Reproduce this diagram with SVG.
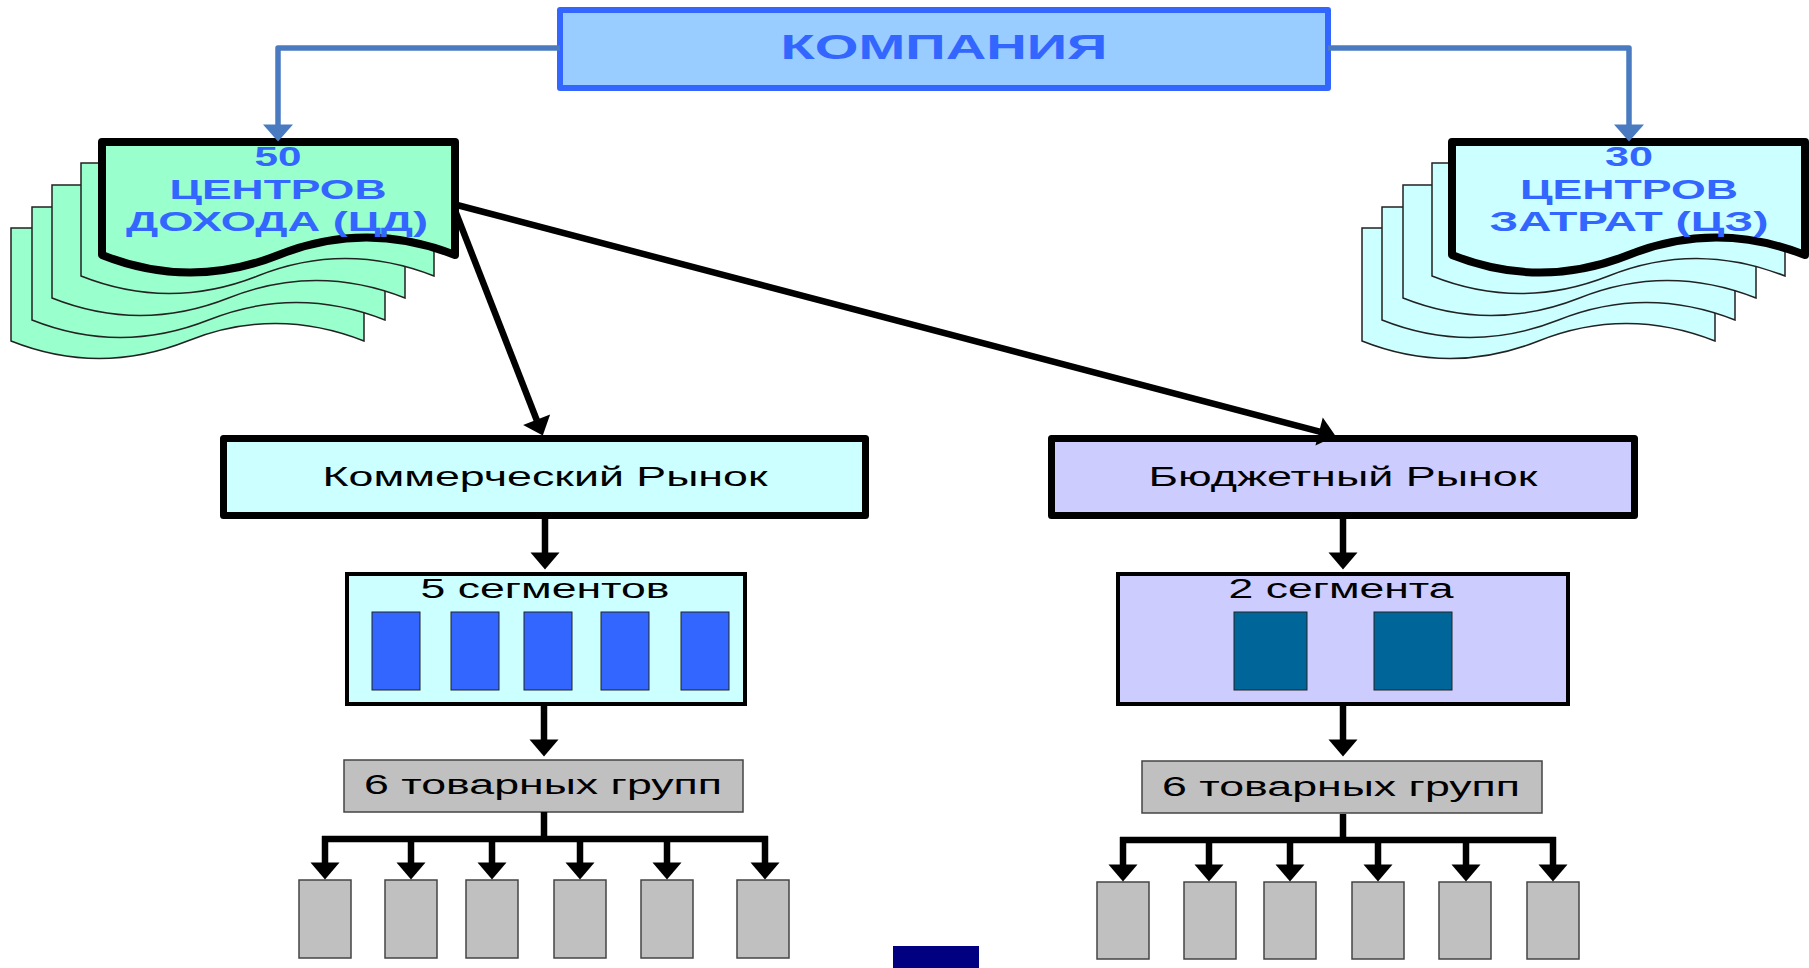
<svg xmlns="http://www.w3.org/2000/svg" xmlns:xlink="http://www.w3.org/1999/xlink" width="1809" height="968" viewBox="0 0 1809 968">
<style>
text{font-family:"Liberation Sans",Arial,sans-serif}
.bt{font-weight:bold;fill:#3366FF;font-size:27px;text-anchor:middle}
.nt{fill:#000;font-size:27px;text-anchor:middle}
.layerG{fill:#99FFCC;stroke:#222;stroke-width:1.5}
.layerC{fill:#CCFFFF;stroke:#222;stroke-width:1.5}
.mainG{fill:#99FFCC;stroke:#000;stroke-width:8;stroke-linejoin:round}
.mainC{fill:#CCFFFF;stroke:#000;stroke-width:8;stroke-linejoin:round}
.blk{stroke:#000;stroke-width:6.5;fill:none}
.blu{stroke:#4A7BC1;stroke-width:5.5;fill:none;stroke-linejoin:round}
.seg{fill:#3366FF;stroke:#222;stroke-width:1}
.teal{fill:#006699;stroke:#222;stroke-width:1}
.gray{fill:#C0C0C0;stroke:#444;stroke-width:1.5}
</style>
<defs>
<path id="doc" d="M0,0 H353 V113 Q264,78 176.5,113 Q88,148 0,113 Z"/>
<marker id="ah" markerUnits="userSpaceOnUse" markerWidth="18" markerHeight="29" refX="0.5" refY="14.5" orient="auto" overflow="visible">
<path d="M0,0 L17,14.5 L0,29 Z" fill="#000"/>
</marker>
<marker id="ahb" markerUnits="userSpaceOnUse" markerWidth="18" markerHeight="30" refX="0.5" refY="15" orient="auto" overflow="visible">
<path d="M0,0 L17,15 L0,30 Z" fill="#4A7BC1"/>
</marker>
</defs>

<g id="company">
<rect x="560" y="10" width="768" height="78" fill="#99CCFF" stroke="#3366FF" stroke-width="6" stroke-linejoin="round"/>
<text x="944" y="59" class="bt" style="font-size:35px" textLength="327" lengthAdjust="spacingAndGlyphs">КОМПАНИЯ</text>
</g>

<g id="revenue-centers">
<use xlink:href="#doc" href="#doc" class="layerG" transform="translate(11,228)"/>
<use xlink:href="#doc" href="#doc" class="layerG" transform="translate(32,207)"/>
<use xlink:href="#doc" href="#doc" class="layerG" transform="translate(52,185)"/>
<use xlink:href="#doc" href="#doc" class="layerG" transform="translate(81,163)"/>
<use xlink:href="#doc" href="#doc" class="mainG" transform="translate(102,142)"/>
<text x="278" y="166" class="bt" textLength="47" lengthAdjust="spacingAndGlyphs">50</text>
<text x="278" y="199" class="bt" textLength="217" lengthAdjust="spacingAndGlyphs">ЦЕНТРОВ</text>
<text x="277" y="231" class="bt" textLength="302" lengthAdjust="spacingAndGlyphs">ДОХОДА (ЦД)</text>
</g>

<g id="cost-centers">
<use xlink:href="#doc" href="#doc" class="layerC" transform="translate(1362,228)"/>
<use xlink:href="#doc" href="#doc" class="layerC" transform="translate(1382,207)"/>
<use xlink:href="#doc" href="#doc" class="layerC" transform="translate(1403,185)"/>
<use xlink:href="#doc" href="#doc" class="layerC" transform="translate(1432,163)"/>
<use xlink:href="#doc" href="#doc" class="mainC" transform="translate(1452,142)"/>
<text x="1629" y="166" class="bt" textLength="48" lengthAdjust="spacingAndGlyphs">30</text>
<text x="1629" y="199" class="bt" textLength="218" lengthAdjust="spacingAndGlyphs">ЦЕНТРОВ</text>
<text x="1629" y="231" class="bt" textLength="279" lengthAdjust="spacingAndGlyphs">ЗАТРАТ (ЦЗ)</text>
</g>

<g id="commercial-market">
<rect x="223.5" y="438.5" width="642" height="77" fill="#CCFFFF" stroke="#000" stroke-width="7" stroke-linejoin="round"/>
<text x="545" y="486" class="nt" textLength="445" lengthAdjust="spacingAndGlyphs">Коммерческий Рынок</text>
</g>

<g id="budget-market">
<rect x="1051.5" y="438.5" width="583" height="77" fill="#CCCCFF" stroke="#000" stroke-width="7" stroke-linejoin="round"/>
<text x="1343" y="486" class="nt" textLength="389" lengthAdjust="spacingAndGlyphs">Бюджетный Рынок</text>
</g>

<g id="segments-5">
<rect x="347" y="574" width="398" height="130" fill="#CCFFFF" stroke="#000" stroke-width="4"/>
<text x="545" y="598" class="nt" textLength="249" lengthAdjust="spacingAndGlyphs">5 сегментов</text>
<rect class="seg" x="372" y="612" width="48" height="78"/>
<rect class="seg" x="451" y="612" width="48" height="78"/>
<rect class="seg" x="524" y="612" width="48" height="78"/>
<rect class="seg" x="601" y="612" width="48" height="78"/>
<rect class="seg" x="681" y="612" width="48" height="78"/>
</g>

<g id="segments-2">
<rect x="1118" y="574" width="450" height="130" fill="#CCCCFF" stroke="#000" stroke-width="4"/>
<text x="1341" y="598" class="nt" textLength="225" lengthAdjust="spacingAndGlyphs">2 сегмента</text>
<rect class="teal" x="1234" y="612" width="73" height="78"/>
<rect class="teal" x="1374" y="612" width="78" height="78"/>
</g>

<g id="groups-left">
<rect class="gray" x="344" y="760" width="399" height="52"/>
<text x="543" y="794" class="nt" textLength="358" lengthAdjust="spacingAndGlyphs">6 товарных групп</text>
</g>

<g id="groups-right">
<rect class="gray" x="1142" y="761" width="400" height="52"/>
<text x="1341" y="796" class="nt" textLength="358" lengthAdjust="spacingAndGlyphs">6 товарных групп</text>
</g>

<g id="items-left">
<rect class="gray" x="299" y="880" width="52" height="78"/>
<rect class="gray" x="385" y="880" width="52" height="78"/>
<rect class="gray" x="466" y="880" width="52" height="78"/>
<rect class="gray" x="554" y="880" width="52" height="78"/>
<rect class="gray" x="641" y="880" width="52" height="78"/>
<rect class="gray" x="737" y="880" width="52" height="78"/>
</g>

<g id="items-right">
<rect class="gray" x="1097" y="882" width="52" height="77"/>
<rect class="gray" x="1184" y="882" width="52" height="77"/>
<rect class="gray" x="1264" y="882" width="52" height="77"/>
<rect class="gray" x="1352" y="882" width="52" height="77"/>
<rect class="gray" x="1439" y="882" width="52" height="77"/>
<rect class="gray" x="1527" y="882" width="52" height="77"/>
</g>

<rect id="navy-block" x="893" y="946" width="86" height="22" fill="#000080"/>

<g id="connectors">
<path class="blu" d="M560,48 H278 V125" marker-end="url(#ahb)"/>
<path class="blu" d="M1328,48 H1629 V125" marker-end="url(#ahb)"/>
<line class="blk" x1="456" y1="213" x2="536.8" y2="420.2" marker-end="url(#ah)"/>
<line class="blk" x1="457" y1="205" x2="1319.6" y2="431.7" marker-end="url(#ah)"/>
<line class="blk" x1="545" y1="519" x2="545" y2="553" marker-end="url(#ah)"/>
<line class="blk" x1="1343" y1="519" x2="1343" y2="553" marker-end="url(#ah)"/>
<line class="blk" x1="544" y1="706" x2="544" y2="740" marker-end="url(#ah)"/>
<line class="blk" x1="1343" y1="706" x2="1343" y2="740" marker-end="url(#ah)"/>
<path class="blk" d="M544,812 V839 M322,839 H768"/>
<line class="blk" x1="325" y1="836" x2="325" y2="863" marker-end="url(#ah)"/>
<line class="blk" x1="411" y1="836" x2="411" y2="863" marker-end="url(#ah)"/>
<line class="blk" x1="492" y1="836" x2="492" y2="863" marker-end="url(#ah)"/>
<line class="blk" x1="580" y1="836" x2="580" y2="863" marker-end="url(#ah)"/>
<line class="blk" x1="667" y1="836" x2="667" y2="863" marker-end="url(#ah)"/>
<line class="blk" x1="765" y1="836" x2="765" y2="863" marker-end="url(#ah)"/>
<path class="blk" d="M1343,814 V840 M1120,840 H1556"/>
<line class="blk" x1="1123" y1="837" x2="1123" y2="865" marker-end="url(#ah)"/>
<line class="blk" x1="1209" y1="837" x2="1209" y2="865" marker-end="url(#ah)"/>
<line class="blk" x1="1290" y1="837" x2="1290" y2="865" marker-end="url(#ah)"/>
<line class="blk" x1="1378" y1="837" x2="1378" y2="865" marker-end="url(#ah)"/>
<line class="blk" x1="1466" y1="837" x2="1466" y2="865" marker-end="url(#ah)"/>
<line class="blk" x1="1553" y1="837" x2="1553" y2="865" marker-end="url(#ah)"/>
</g>
</svg>
